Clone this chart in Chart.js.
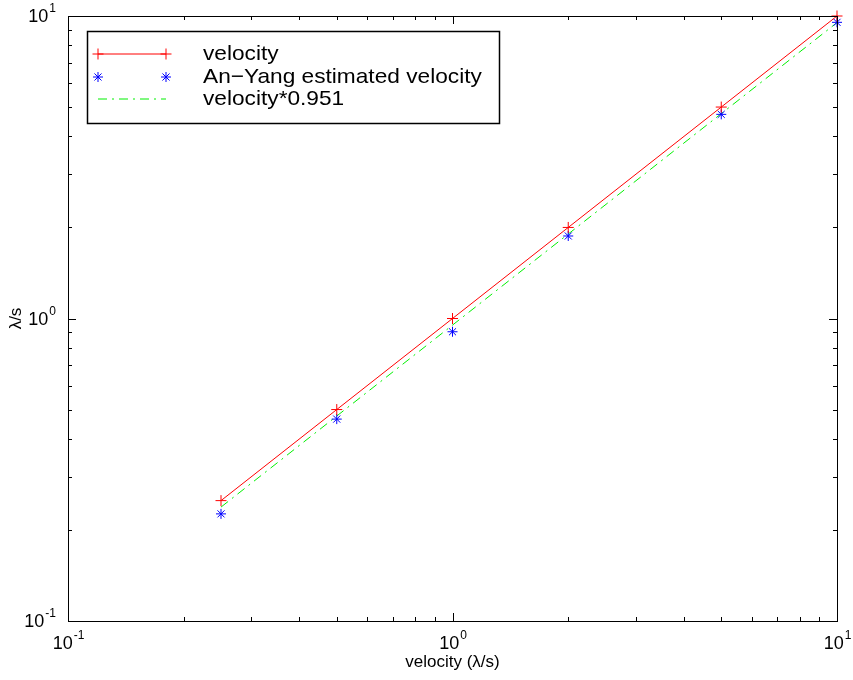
<!DOCTYPE html>
<html>
<head>
<meta charset="utf-8">
<script src="https://cdn.jsdelivr.net/npm/chart.js@4/dist/chart.umd.min.js"></script>
<style>
  html, body { margin: 0; padding: 0; background: #fff; }
  #velocityChart { display: block; }
</style>
</head>
<body>
<canvas id="velocityChart" width="853" height="680"></canvas>
<script>
// measured vs. estimated velocity (log-log)
const velocity = [0.25, 0.5, 1, 2, 5, 10];
const anYangVelocity = [0.226, 0.465, 0.904, 1.874, 4.73, 9.53];
const scaledVelocity = [0.238, 0.476, 0.951, 1.902, 4.755, 9.51];

const seriesNames = ['velocity', 'An\u2212Yang estimated velocity', 'velocity*0.951'];
const majorTicks = [0.1, 1, 10];
const majorExponents = ['-1', '0', '1'];
const minorSteps = [2, 3, 4, 5, 6, 7, 8, 9];

const FONT = '"Liberation Sans", Arial, Helvetica, sans-serif';

function points(xs, ys) {
    return xs.map(function (x, i) { return { x: x, y: ys[i] }; });
}

// box, inward ticks, tick labels, axis titles and legend
const axesBox = {
    id: 'axesBox',
    afterDraw: function (chart) {
        var ctx = chart.ctx;
        var a = chart.chartArea;
        var sx = chart.scales.x, sy = chart.scales.y;
        ctx.save();
        ctx.strokeStyle = '#000';
        ctx.lineWidth = 1;
        ctx.strokeRect(Math.round(a.left) + 0.5, Math.round(a.top) + 0.5,
            Math.round(a.right - a.left), Math.round(a.bottom - a.top));

        var tickValues = [];
        majorTicks.forEach(function (m) { tickValues.push({ v: m, major: true }); });
        [0.1, 1].forEach(function (d) {
            minorSteps.forEach(function (s) { tickValues.push({ v: d * s, major: false }); });
        });

        ctx.beginPath();
        tickValues.forEach(function (t) {
            var len = t.major ? 8 : 4;
            var px = Math.round(sx.getPixelForValue(t.v)) + 0.5;
            ctx.moveTo(px, a.bottom); ctx.lineTo(px, a.bottom - len);
            ctx.moveTo(px, a.top); ctx.lineTo(px, a.top + len);
            var py = Math.round(sy.getPixelForValue(t.v)) + 0.5;
            ctx.moveTo(a.left, py); ctx.lineTo(a.left + len, py);
            ctx.moveTo(a.right, py); ctx.lineTo(a.right - len, py);
        });
        ctx.stroke();

        // tick labels as 10 with superscript exponent
        ctx.fillStyle = '#000';
        majorTicks.forEach(function (v, i) {
            var exp = majorExponents[i];
            ctx.font = '18px ' + FONT;
            var baseW = ctx.measureText('10').width;
            ctx.font = '12px ' + FONT;
            var expW = ctx.measureText(exp).width;

            // x axis
            var px = sx.getPixelForValue(v);
            var left = px - (baseW + expW) / 2;
            ctx.textBaseline = 'alphabetic';
            ctx.textAlign = 'left';
            ctx.font = '18px ' + FONT;
            ctx.fillText('10', left, a.bottom + 28);
            ctx.font = '12px ' + FONT;
            ctx.fillText(exp, left + baseW + 1, a.bottom + 18);

            // y axis
            var py = sy.getPixelForValue(v);
            var right = a.left - 12;
            ctx.font = '18px ' + FONT;
            ctx.fillText('10', right - expW - baseW - 1, py + 6);
            ctx.font = '12px ' + FONT;
            ctx.fillText(exp, right - expW, py - 4);
        });

        // axis titles
        ctx.font = '17px ' + FONT;
        ctx.textAlign = 'center';
        ctx.textBaseline = 'middle';
        ctx.fillText('velocity (\u03bb/s)', (a.left + a.right) / 2, 662);
        ctx.save();
        ctx.translate(16, (a.top + a.bottom) / 2);
        ctx.rotate(-Math.PI / 2);
        ctx.fillText('\u03bb/s', 0, 0);
        ctx.restore();

        // legend
        var lx = 87.5, ly = 31.5, lw = 412, lh = 92;
        ctx.fillStyle = '#fff';
        ctx.fillRect(lx, ly, lw, lh);
        ctx.strokeStyle = '#000';
        ctx.lineWidth = 1.5;
        ctx.strokeRect(lx, ly, lw, lh);

        var rows = [54, 77, 99];
        var x0 = 98, x1 = 166;
        chart.data.datasets.forEach(function (ds, i) {
            var y = rows[i];
            ctx.strokeStyle = ds.borderColor;
            ctx.lineWidth = 1;
            if (ds.showLine !== false) {
                ctx.setLineDash(ds.borderDash || []);
                ctx.beginPath();
                ctx.moveTo(x0, y); ctx.lineTo(x1, y);
                ctx.stroke();
                ctx.setLineDash([]);
            }
            if (ds.pointRadius > 0) {
                [x0, x1].forEach(function (x) {
                    Chart.helpers.drawPoint(ctx, {
                        pointStyle: ds.pointStyle,
                        radius: ds.pointRadius,
                        borderWidth: ds.pointBorderWidth,
                        rotation: 0
                    }, x, y);
                });
            }
            // the legend face runs a little wide
            ctx.save();
            ctx.translate(203, y);
            ctx.scale(1.08, 1);
            ctx.fillStyle = '#000';
            ctx.font = '21px ' + FONT;
            ctx.textAlign = 'left';
            ctx.textBaseline = 'middle';
            ctx.fillText(seriesNames[i], 0, 0);
            ctx.restore();
        });
        ctx.restore();
    }
};

new Chart(document.getElementById('velocityChart'), {
    type: 'line',
    data: {
        datasets: [{
            label: seriesNames[0],
            data: points(velocity, velocity),
            borderColor: '#ff0000',
            backgroundColor: '#ff0000',
            borderWidth: 1,
            pointStyle: 'cross',
            pointRadius: 5.5,
            pointBorderWidth: 1,
            clip: false
        }, {
            label: seriesNames[1],
            data: points(velocity, anYangVelocity),
            borderColor: '#0000ff',
            backgroundColor: '#0000ff',
            showLine: false,
            pointStyle: 'star',
            pointRadius: 5,
            pointBorderWidth: 1,
            clip: false
        }, {
            label: seriesNames[2],
            data: points(velocity, scaledVelocity),
            borderColor: '#00f000',
            backgroundColor: '#00f000',
            borderWidth: 1,
            borderDash: [9, 5, 2, 5],
            pointRadius: 0,
            clip: false
        }]
    },
    options: {
        responsive: false,
        animation: false,
        devicePixelRatio: 1,
        layout: { padding: { left: 68, right: 16, top: 16, bottom: 59 } },
        plugins: { legend: { display: false }, tooltip: { enabled: false } },
        scales: {
            x: { type: 'logarithmic', min: 0.1, max: 10, display: false },
            y: { type: 'logarithmic', min: 0.1, max: 10, display: false }
        }
    },
    plugins: [axesBox]
});
</script>
</body>
</html>
